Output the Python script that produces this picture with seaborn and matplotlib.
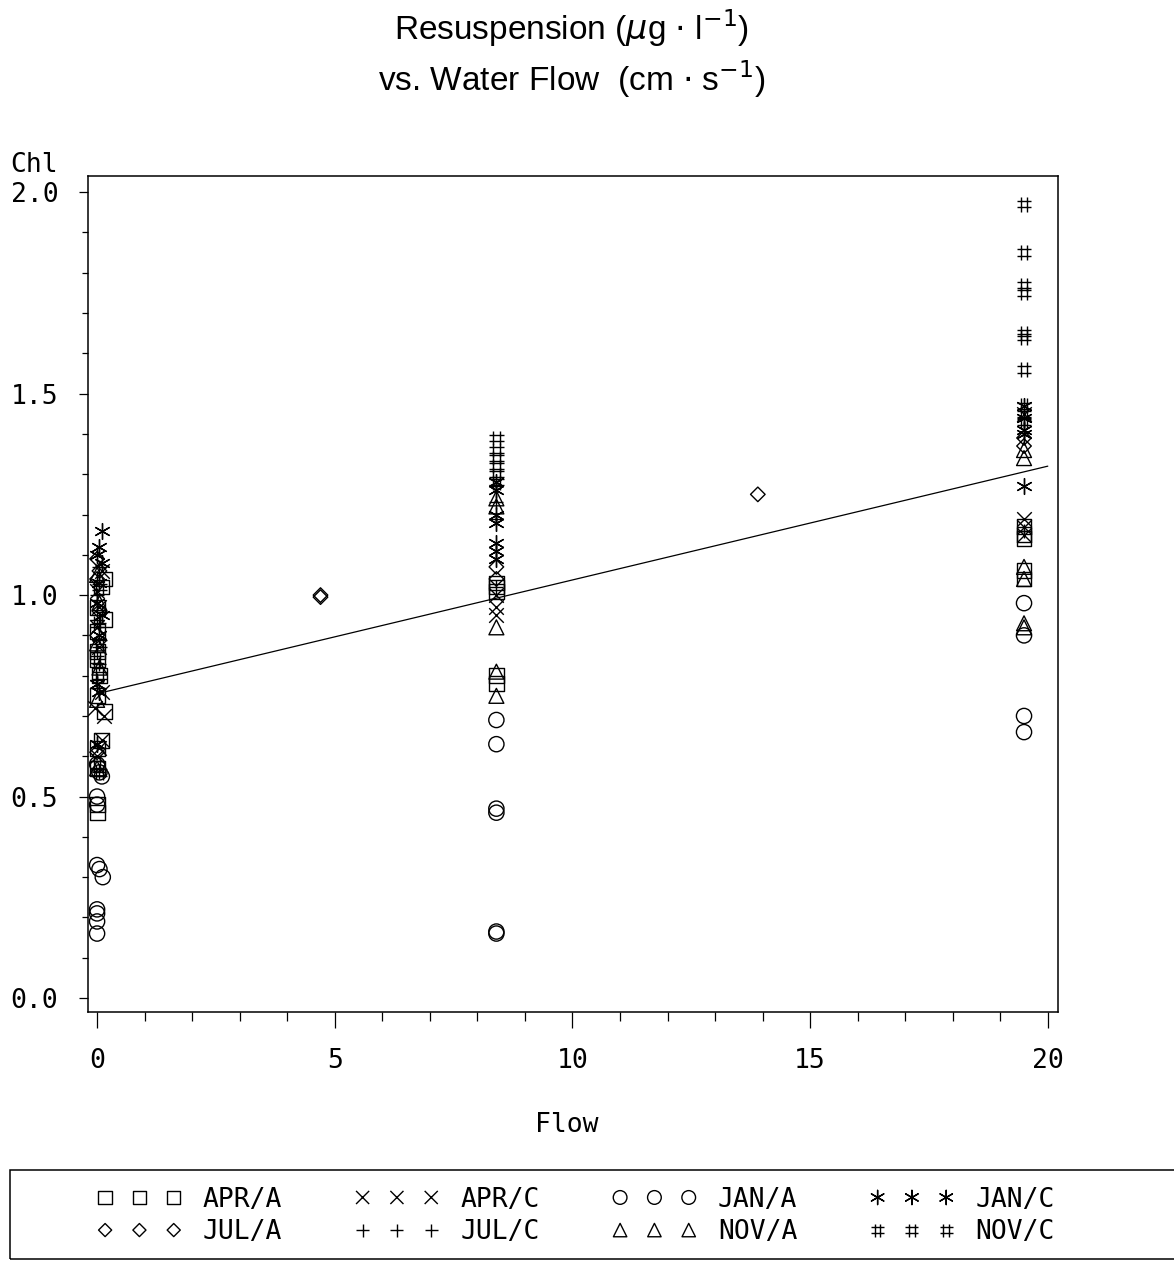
import matplotlib
matplotlib.use("Agg")
import matplotlib.pyplot as plt
import seaborn as sns
import numpy as np
from matplotlib.path import Path
from matplotlib.markers import MarkerStyle
from matplotlib.patches import Rectangle
from matplotlib.ticker import MultipleLocator

# --- data: flow (cm/s) and Chl resuspension per sample group ---
groups = ['APR/A', 'JUL/A', 'APR/C', 'JUL/C', 'JAN/A', 'NOV/A', 'JAN/C', 'NOV/C']

apr_a_flow = [0.15, 0.1, 0.0, 0.15, 0.0, 0.0, 0.0, 0.05, 0.0, 0.15, 0.1, 0.0, 0.0, 0.0, 0.0,
              8.4, 8.4, 8.4, 8.4, 8.4, 19.5, 19.5, 19.5, 19.5, 19.5]
apr_a_chl = [1.04, 1.02, 0.97, 0.94, 0.91, 0.86, 0.84, 0.80, 0.75, 0.71, 0.64, 0.62, 0.57, 0.48, 0.46,
             1.03, 1.02, 1.01, 0.80, 0.78, 1.17, 1.15, 1.14, 1.06, 1.04]

apr_c_flow = [0.1, 0.0, 0.05, 0.0, 0.05, 0.1, -0.05, 0.15, 0.1, 0.05, 0.0,
              8.4, 8.4, 8.4, 19.5, 19.5, 19.5, 19.5]
apr_c_chl = [1.06, 1.01, 0.97, 0.92, 0.87, 0.76, 0.72, 0.70, 0.64, 0.62, 0.60,
             1.00, 0.97, 0.95, 1.45, 1.19, 1.17, 1.15]

jan_a_flow = [0.0, 0.05, 0.1, 0.0, 0.0, 0.0, 0.05, 0.12, 0.0, 0.0, 0.0, 0.0,
              8.4, 8.4, 8.4, 8.4, 8.4, 8.4, 19.5, 19.5, 19.5, 19.5]
jan_a_chl = [0.58, 0.56, 0.55, 0.50, 0.48, 0.33, 0.32, 0.30, 0.22, 0.21, 0.19, 0.16,
             0.69, 0.63, 0.47, 0.46, 0.165, 0.16, 0.98, 0.90, 0.70, 0.66]

jan_c_flow = [0.1, 0.05, 0.0, 0.1, 0.05, 0.0, 0.1, 0.05, 0.0, 0.05, 0.0,
              8.4, 8.4, 8.4, 8.4, 8.4, 8.4, 8.4, 19.5, 19.5, 19.5, 19.5, 19.5]
jan_c_chl = [1.16, 1.12, 1.10, 1.08, 1.03, 0.98, 0.95, 0.90, 0.78, 0.76, 0.63,
             1.28, 1.26, 1.20, 1.18, 1.13, 1.11, 1.09, 1.47, 1.44, 1.41, 1.40, 1.27]

jul_a_flow = [0.0, 0.05, 0.0, 0.05, 0.0, 0.0, 4.7, 4.7, 8.4, 8.4, 13.9, 19.5, 19.5]
jul_a_chl = [1.09, 1.06, 1.04, 0.96, 0.90, 0.61, 1.00, 0.995, 1.07, 1.04, 1.25, 1.39, 1.37]

jul_c_flow = [0.05, 0.0, 0.05, 0.0, 0.05, 0.0, 0.05,
              8.4, 8.4, 8.4, 8.4, 19.5, 19.5]
jul_c_chl = [1.07, 1.00, 0.93, 0.86, 0.83, 0.79, 0.56,
             1.27, 1.23, 1.19, 1.02, 1.44, 1.16]

nov_a_flow = [0.0, 0.05, 0.0, 0.05, 0.0, 0.0,
              8.4, 8.4, 8.4, 8.4, 8.4, 19.5, 19.5, 19.5, 19.5, 19.5, 19.5]
nov_a_chl = [1.05, 0.98, 0.88, 0.82, 0.74, 0.57,
             1.24, 1.22, 0.92, 0.81, 0.75, 1.36, 1.34, 1.07, 1.04, 0.93, 0.92]

nov_c_flow = [0.05, 0.0, 0.05, 0.0, 0.05, 0.0, 0.05,
              8.4, 8.4, 8.4, 8.4, 8.4, 8.4,
              19.5, 19.5, 19.5, 19.5, 19.5, 19.5, 19.5, 19.5, 19.5, 19.5]
nov_c_chl = [1.02, 0.93, 0.88, 0.84, 0.80, 0.58, 0.56,
             1.39, 1.36, 1.34, 1.32, 1.30, 1.28,
             1.97, 1.85, 1.77, 1.75, 1.65, 1.64, 1.56, 1.47, 1.45, 1.43]

# fitted regression line (end points)
fit_flow = [0.1, 20.0]
fit_chl = [0.758, 1.32]

flows = {'APR/A': apr_a_flow, 'APR/C': apr_c_flow, 'JAN/A': jan_a_flow, 'JAN/C': jan_c_flow,
         'JUL/A': jul_a_flow, 'JUL/C': jul_c_flow, 'NOV/A': nov_a_flow, 'NOV/C': nov_c_flow}
chls = {'APR/A': apr_a_chl, 'APR/C': apr_c_chl, 'JAN/A': jan_a_chl, 'JAN/C': jan_c_chl,
        'JUL/A': jul_a_chl, 'JUL/C': jul_c_chl, 'NOV/A': nov_a_chl, 'NOV/C': nov_c_chl}

# hash marker built as a path
h = 0.22
hash_path = Path([(-h, -0.5), (-h, 0.5), (h, -0.5), (h, 0.5),
                  (-0.5, h), (0.5, h), (-0.5, -h), (0.5, -h)],
                 [Path.MOVETO, Path.LINETO] * 4)

markers = {'APR/A': 's', 'APR/C': 'x', 'JAN/A': 'o', 'JAN/C': (6, 2, 0),
           'JUL/A': 'D', 'JUL/C': '+', 'NOV/A': '^', 'NOV/C': hash_path}
sizes = {'APR/A': 115, 'APR/C': 110, 'JAN/A': 120, 'JAN/C': 130,
         'JUL/A': 55, 'JUL/C': 110, 'NOV/A': 115, 'NOV/C': 110}

sns.set_theme(style='ticks')
mono = 'DejaVu Sans Mono'
plt.rcParams['font.family'] = [mono, 'DejaVu Sans']
plt.rcParams['mathtext.fontset'] = 'dejavusans'
plt.rcParams['text.color'] = 'black'
plt.rcParams['xtick.color'] = 'black'
plt.rcParams['ytick.color'] = 'black'
plt.rcParams['xtick.labelcolor'] = 'black'
plt.rcParams['ytick.labelcolor'] = 'black'

fig = plt.figure(figsize=(11.74, 12.62), dpi=100)
ax = fig.add_axes([0.075, 0.198, 0.826, 0.6625])

for name in groups:
    m = markers[name]
    kw = dict(marker=m, s=sizes[name], linewidth=1.0, legend=False, label=name, ax=ax)
    if MarkerStyle(m).is_filled():
        kw.update(color='black', facecolor='none', edgecolor='black')
    else:
        kw.update(color='black')
    sns.scatterplot(x=flows[name], y=chls[name], **kw)

ax.plot(fit_flow, fit_chl, color='black', linewidth=0.9)

ax.set_xlim(-0.19, 20.21)
ax.set_ylim(-0.035, 2.04)
ax.xaxis.set_major_locator(MultipleLocator(5))
ax.xaxis.set_minor_locator(MultipleLocator(1))
ax.yaxis.set_major_locator(MultipleLocator(0.5))
ax.yaxis.set_minor_locator(MultipleLocator(0.1))
ax.yaxis.set_major_formatter(plt.FuncFormatter(lambda v, p: f'{v:.1f}'))
ax.tick_params(axis='x', which='major', length=11.5, width=0.9, pad=14, labelsize=19,
               direction='out', colors='black')
ax.tick_params(axis='x', which='minor', length=6.5, width=0.9, direction='out', colors='black')
ax.tick_params(axis='y', which='major', length=6.5, width=0.9, pad=15, labelsize=19,
               direction='out', colors='black')
ax.tick_params(axis='y', which='minor', length=4.3, width=0.9, direction='out', colors='black')
for sp in ax.spines.values():
    sp.set_visible(True)
    sp.set_linewidth(1.1)
    sp.set_color('black')
ax.set_xlabel('')
ax.set_ylabel('')

fig.text(10 / 1174, 1 - 165 / 1262, 'Chl', ha='left', va='center', fontsize=19, color='black')
fig.text(567 / 1174, 1 - 1125 / 1262, 'Flow', ha='center', va='center', fontsize=19, color='black')

title_font = ['Liberation Sans', 'DejaVu Sans']
fig.text(572 / 1174, 1 - 28 / 1262, r'Resuspension ($\mu$g $\cdot$ l$^{-1}$)',
         ha='center', va='center', fontsize=24, family=title_font, color='black')
fig.text(572 / 1174, 1 - 79 / 1262, r'vs. Water Flow  (cm $\cdot$ s$^{-1}$)',
         ha='center', va='center', fontsize=24, family=title_font, color='black')

# legend: frameless legend inside a hand-drawn box
handles, labels = ax.get_legend_handles_labels()
order = [labels.index(g) for g in groups]
fig.legend([handles[i] for i in order], [labels[i] for i in order],
           ncol=4, loc='center left', bbox_to_anchor=(84 / 1174, 1 - 1216 / 1262),
           frameon=False, scatterpoints=3, scatteryoffsets=[0.5], markerscale=0.9,
           handlelength=3.2, handletextpad=0.8, columnspacing=2.75, labelspacing=0.25,
           fontsize=19, borderpad=0, labelcolor='black')
fig.patches.append(Rectangle((10 / 1174, 3 / 1262), 1.2, (1259 - 1170) / 1262,
                             transform=fig.transFigure, fill=False,
                             edgecolor='black', linewidth=1.1))

fig.savefig('out.png', dpi=100)
